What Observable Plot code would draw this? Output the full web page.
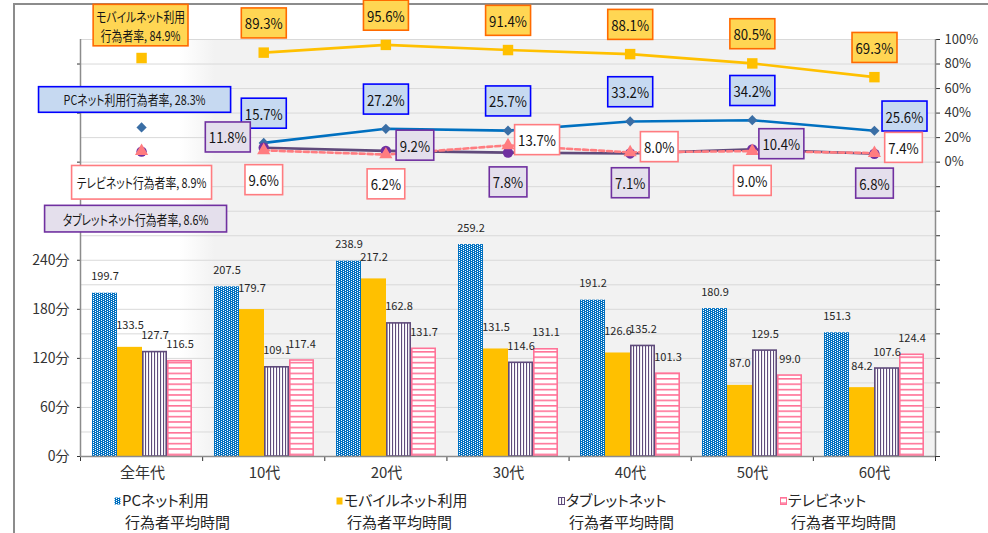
<!DOCTYPE html>
<html>
<head>
<meta charset="utf-8">
<script src="https://cdn.jsdelivr.net/npm/d3@7"></script>
<script src="https://cdn.jsdelivr.net/npm/@observablehq/plot@0.6"></script>
<style>
html, body { margin: 0; padding: 0; background: #fff; }
#chart { position: relative; width: 988px; height: 533px; overflow: hidden;
  font-family: 'Noto Sans CJK JP', 'Noto Sans', sans-serif; font-feature-settings: "palt"; color: #262626; }
#frame { position: absolute; left: 13px; top: 3px; width: 990px; height: 540px;
  border-top: 2px solid #8c8c8c; border-left: 2px solid #8c8c8c; }
#main, #over { position: absolute; left: 0; top: 0; }
#main svg { background: linear-gradient(to right, #ffffff 0px, #ffffff 100px, #f2f2f2 135px) 80px 39px / 855px 417px no-repeat; }
#over svg { background: transparent; }
#chart svg text { font-feature-settings: "palt"; }
#main g[aria-label^="y-axis"] text { font-size: 14px; }
#over g[aria-label^="y-axis"] text { font-size: 13px; }
#legend { position: absolute; left: 114px; top: 489px; display: flex; }
.lg { width: 222px; font-size: 15px; line-height: 22px; color: #262626; }
.lg .row2 { padding-left: 11px; }
.lg svg { vertical-align: middle; margin-right: 1px; position: relative; top: -1px; }
</style>
</head>
<body>
<svg width="0" height="0" style="position:absolute">
  <defs>
    <pattern id="patPC" patternUnits="userSpaceOnUse" width="4" height="2">
      <rect width="4" height="2" fill="#0070c0"/>
      <rect x="0" y="0" width="1" height="1" fill="#ffffff"/>
      <rect x="2" y="1" width="1" height="1" fill="#ffffff"/>
    </pattern>
    <pattern id="patTab" patternUnits="userSpaceOnUse" width="3" height="4">
      <rect width="3" height="4" fill="#ffffff"/>
      <rect x="0" y="0" width="1.1" height="4" fill="#5f4b7b"/>
    </pattern>
    <pattern id="patTV" patternUnits="userSpaceOnUse" width="4" height="5.4">
      <rect width="4" height="5.4" fill="#ffffff"/>
      <rect x="0" y="0" width="4" height="1.6" fill="#ff7398"/>
    </pattern>
  </defs>
</svg>
<div id="chart">
  <div id="frame"></div>
  <div id="main"></div>
  <div id="over"></div>
  <div id="legend"></div>
</div>
<script>
// ---------------- data ----------------
const categories = ["全年代", "10代", "20代", "30代", "40代", "50代", "60代"];

// average usage time (minutes) – bars
const pcTime     = [199.7, 207.5, 238.9, 259.2, 191.2, 180.9, 151.3];
const mobileTime = [133.5, 179.7, 217.2, 131.5, 126.6, 87.0, 84.2];
const tabletTime = [127.7, 109.1, 162.8, 114.6, 135.2, 129.5, 107.6];
const tvTime     = [116.5, 117.4, 131.7, 131.1, 101.3, 99.0, 124.4];

// user rates (%) – lines
const mobileRate = [84.9, 89.3, 95.6, 91.4, 88.1, 80.5, 69.3];
const pcRate     = [28.3, 15.7, 27.2, 25.7, 33.2, 34.2, 25.6];
const tabletRate = [8.6, 11.8, 9.2, 7.8, 7.1, 10.4, 6.8];
const tvRate     = [8.9, 9.6, 6.2, 13.7, 8.0, 9.0, 7.4];

const legendNames = ["PCネット利用", "モバイルネット利用", "タブレットネット", "テレビネット"];
const legendSub = "行為者平均時間";
const rateNames = ["モバイルネット利用\n行為者率", "PCネット利用行為者率", "タブレットネット行為者率", "テレビネット行為者率"];
const minuteTicks = [0, 60, 120, 180, 240];
const percentTicks = [0, 20, 40, 60, 80, 100];

// label placement hints (which side of the point the boxed label sits)
const mobileSide = ["above2", "above", "above", "above", "above", "above", "above"];
const pcSide     = ["aboveleft", "above", "above", "above", "above", "above", "upright"];
const tabletSide = ["below2", "left", "right", "below", "below", "right", "below"];
const tvSide     = ["below", "below", "below", "right", "right", "below", "right"];

// ---------------- layout / style ----------------
const W = 988, H = 488;
const MARGINS = {marginLeft: 80, marginRight: 53, marginTop: 39, marginBottom: 32};
const FONT = "'Noto Sans CJK JP','Noto Sans',sans-serif";
const place = {
  above: [0, -28], above2: [-1, -33], aboveleft: [-7, -28], below: [0, 31], below2: [-6, 67],
  right: [29, -4], upright: [30, -13], left: [-36, -9]
};

const barSeries = [
  {key: "pc", values: pcTime, fill: "url(#patPC)", stroke: "none", labelDy: -13},
  {key: "mobile", values: mobileTime, fill: "#ffc000", stroke: "none", labelDy: -18},
  {key: "tablet", values: tabletTime, fill: "url(#patTab)", stroke: "#5f4b7b", labelDy: -13},
  {key: "tv", values: tvTime, fill: "url(#patTV)", stroke: "#ff7398", labelDy: -13}
];
const barRows = s => categories.map((c, i) => ({cat: c, s: s.key, v: s.values[i]}));

const lineSeries = [
  {values: mobileRate, name: rateNames[0], side: mobileSide, line: "#ffc000", marker: "#ffc000", symbol: "square", r: 5.9, dash: null, tag: "#111111", tag0: "#151515"},
  {values: pcRate, name: rateNames[1], side: pcSide, line: "#0070c0", marker: "#3a6ea5", symbol: "diamond2", r: 4.6, dash: null, tag: "#121212", tag0: "#161616"},
  {values: tabletRate, name: rateNames[2], side: tabletSide, line: "#604a7b", marker: "#7030a0", symbol: "circle", r: 5.2, dash: null, tag: "#131313", tag0: "#171717"},
  {values: tvRate, name: rateNames[3], side: tvSide, line: "#ff7c80", marker: "#ff7c80", symbol: "triangle", r: 4.9, dash: "5,3", tag: "#141414", tag0: "#181818"}
];
// cx = horizontal condensing of the label text (the reference uses a narrow face)
const boxStyles = {
  "#111111": {fill: "#ffd653", stroke: "#ff6a00", px: 3.5, py: 4.5, cx: 0.88},
  "#151515": {fill: "#ffd653", stroke: "#ff6a00", px: 3, py: 1.3, cx: 0.8},
  "#121212": {fill: "#c6d9f1", stroke: "#0000ff", px: 3.5, py: 4.5, cx: 0.88},
  "#161616": {fill: "#c6d9f1", stroke: "#0000ff", px: 25, py: 2.8, cx: 0.8},
  "#131313": {fill: "#e4dfec", stroke: "#7030a0", px: 3.5, py: 4.5, cx: 0.88},
  "#171717": {fill: "#e4dfec", stroke: "#7030a0", px: 18, py: 3.3, cx: 0.8},
  "#141414": {fill: "#ffffff", stroke: "#ff7c80", px: 3.5, py: 4.5, cx: 0.88},
  "#181818": {fill: "#ffffff", stroke: "#ff7c80", px: 5, py: 6.8, cx: 0.8}
};

// ---------------- main (bars) ----------------
const main = Plot.plot({
  width: W, height: H, ...MARGINS,
  style: {fontFamily: FONT, fontSize: "15px", color: "#333333", overflow: "visible"},
  fx: {domain: categories, padding: 0, label: null, axis: "bottom", tickSize: 0, tickPadding: 11},
  x: {domain: barSeries.map(s => s.key), paddingInner: 0, paddingOuter: 0.39, axis: null},
  y: {domain: [0, 510], ticks: [...minuteTicks, 300, 360, 420, 480],
      tickFormat: d => minuteTicks.includes(d) ? d + "分" : "", tickSize: 4, tickPadding: 8, label: null},
  marks: [
    Plot.ruleY(d3.range(30, 511, 30), {stroke: "#d9d9d9", strokeWidth: 1}),
    ...barSeries.map(s => Plot.barY(barRows(s), {
      fx: "cat", x: "s", y: "v", fill: s.fill,
      stroke: s.stroke, strokeWidth: 1.6,
      insetLeft: s.stroke === "none" ? 0 : 0.8, insetRight: s.stroke === "none" ? 0 : 0.8
    })),
    ...barSeries.map(s => Plot.text(barRows(s), {
      fx: "cat", x: "s", y: "v", text: d => d.v.toFixed(1),
      dy: s.labelDy, lineAnchor: "bottom", fontSize: 11, fill: "#262626"
    }))
  ]
});
document.getElementById("main").appendChild(main);

// ---------------- overlay (rates) ----------------
const rateMarks = [];
for (const s of lineSeries) {
  const rows = categories.map((c, i) => ({
    i, x: i + 0.5, v: s.values[i], side: s.side[i],
    label: i === 0 ? `${s.name}, ${s.values[i].toFixed(1)}%` : `${s.values[i].toFixed(1)}%`
  }));
  rateMarks.push(Plot.line(rows.filter(d => d.i > 0), {
    x: "x", y: "v", stroke: s.line, strokeWidth: 2.6, strokeDasharray: s.dash
  }));
  rateMarks.push(Plot.dot(rows, {x: "x", y: "v", symbol: s.symbol, r: s.r, fill: s.marker, stroke: "none"}));
  s.rows = rows;
}
for (const s of lineSeries) {
  for (const [key, [dx, dy]] of Object.entries(place)) {
    const sub = s.rows.filter(d => d.i > 0 && d.side === key);
    if (sub.length) rateMarks.push(Plot.text(sub, {
      x: "x", y: "v", text: "label", dx, dy, fill: s.tag, fontSize: 15, lineAnchor: "middle"
    }));
  }
}
for (const s of lineSeries) {
  const first = s.rows.filter(d => d.i === 0);
  const [dx, dy] = place[first[0].side];
  rateMarks.push(Plot.text(first, {
    x: "x", y: "v", text: "label", dx, dy, fill: s.tag0, fontSize: 13.5, lineHeight: 1.4, lineAnchor: "middle"
  }));
}

const over = Plot.plot({
  width: W, height: H, ...MARGINS,
  style: {fontFamily: FONT, fontSize: "13px", color: "#333333", overflow: "visible", background: "transparent"},
  x: {domain: [0, categories.length], ticks: d3.range(0, categories.length + 1), tickFormat: () => "",
      tickSize: 5, axis: "bottom", label: null},
  y: {domain: [-240, 100], ticks: d3.range(-240, 101, 20),
      tickFormat: d => percentTicks.includes(d) ? d + "%" : "", tickSize: 4, tickPadding: 5, axis: "right", label: null},
  marks: [
    Plot.ruleY([-240], {stroke: "#8c8c8c", strokeWidth: 1.5}),
    Plot.ruleX([0, categories.length], {stroke: "#8c8c8c", strokeWidth: 1.5}),
    ...rateMarks
  ]
});
document.getElementById("over").appendChild(over);

// boxes behind the rate labels (text slightly condensed like the reference face)
const NS = "http://www.w3.org/2000/svg";
for (const [tag, st] of Object.entries(boxStyles)) {
  over.querySelectorAll(`g[fill="${tag}"] text`).forEach(t => {
    let tr = t.getAttribute("transform");
    if (!tr) {
      const x = +(t.getAttribute("x") || 0), y = +(t.getAttribute("y") || 0);
      t.removeAttribute("x"); t.removeAttribute("y");
      tr = `translate(${x},${y})`;
    }
    const b = t.getBBox();
    t.setAttribute("transform", `${tr} scale(${st.cx},1)`);
    const r = document.createElementNS(NS, "rect");
    r.setAttribute("x", b.x * st.cx - st.px);
    r.setAttribute("y", b.y - st.py);
    r.setAttribute("width", b.width * st.cx + 2 * st.px);
    r.setAttribute("height", b.height + 2 * st.py);
    r.setAttribute("transform", tr);
    r.setAttribute("fill", st.fill);
    r.setAttribute("stroke", st.stroke);
    r.setAttribute("stroke-width", 1.6);
    t.parentNode.insertBefore(r, t);
  });
}

// ---------------- legend ----------------
const legendFills = barSeries.map(s => s.fill);
const legendStrokes = barSeries.map(s => s.stroke);
const lg = document.getElementById("legend");
legendNames.forEach((name, k) => {
  const item = document.createElement("div");
  item.className = "lg";
  item.innerHTML =
    `<div><svg width="7" height="8"><rect x="0.5" y="0.5" width="6" height="7" fill="${legendFills[k]}" stroke="${legendStrokes[k]}" stroke-width="1"/></svg>${name}</div>` +
    `<div class="row2">${legendSub}</div>`;
  lg.appendChild(item);
});
</script>
</body>
</html>
